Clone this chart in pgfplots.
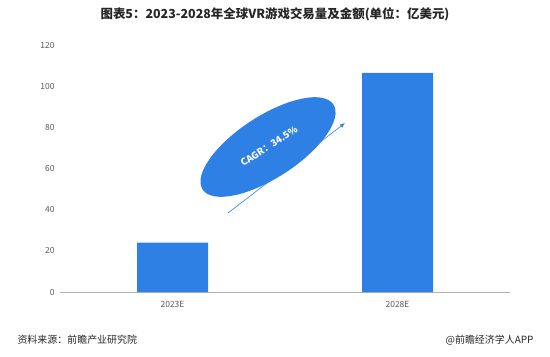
\documentclass[border=0pt]{standalone}
\usepackage{pgfplots}
\pgfplotsset{compat=1.18}
\usetikzlibrary{arrows.meta}
\usepackage{fontspec}
\setmainfont{Noto Sans CJK SC}
\definecolor{barblue}{RGB}{47,128,228}
\definecolor{ticgray}{RGB}{89,89,89}
\begin{document}
\begin{tikzpicture}[x=1bp,y=1bp]
\path[use as bounding box] (0,0) rectangle (550,356);
\begin{axis}[
  at={(60bp,64bp)}, anchor=south west,
  scale only axis, width=450bp, height=247bp,
  xmin=-0.5, xmax=1.5, ymin=0, ymax=120,
  ytick={0,20,...,120},
  xtick={0,1}, xticklabels={2023E,2028E},
  axis y line=none, axis x line*=bottom,
  x axis line style={draw=gray!60, -},
  y axis line style={draw=none},
  major tick length=0pt,
  tick style={draw=none},
  ticklabel style={font=\fontsize{8.5}{10}\selectfont, text=ticgray},
  /pgf/number format/assume math mode=true,
  xticklabel style={yshift=-6bp},
  ybar, bar width=71bp,
  clip=false,
]
\addplot[fill=barblue, draw=none] coordinates {(0,24) (1,106.5)};
\end{axis}
\begin{axis}[
  at={(60bp,64bp)}, anchor=south west,
  scale only axis, width=450bp, height=247bp,
  xmin=-0.5, xmax=1.5, ymin=0, ymax=120,
  ytick={0,20,...,120}, xtick=\empty,
  axis line style={draw=none},
  major tick length=0pt, tick style={draw=none},
  yticklabel style={font=\fontsize{8.5}{10}\selectfont, text=ticgray, xshift=-2bp},
  /pgf/number format/assume math mode=true,
]
\addplot[draw=none] coordinates {(0,0)};
\end{axis}
% CAGR ellipse and arrow
\fill[barblue, rotate around={33:(268,209)}] (268,209) ellipse [x radius=78, y radius=31];
\node[rotate=33, text=white, font=\fontsize{9.5}{11}\selectfont\bfseries] at (269,210) {CAGR：34.5\%};
\draw[barblue, line width=0.6bp, -{Latex[length=5bp,width=4bp]}] (228,143) -- (345,233);
% title and notes
\node[font=\fontsize{12.5}{14}\selectfont\bfseries, text=black!85] at (275,342) {图表5：2023-2028年全球VR游戏交易量及金额(单位：亿美元)};
\node[anchor=west, font=\fontsize{10}{11}\selectfont, text=black!85] at (14,16) {资料来源：前瞻产业研究院};
\node[anchor=east, font=\fontsize{10}{11}\selectfont, text=black!85] at (537,16) {@前瞻经济学人APP};
\end{tikzpicture}
\end{document}
